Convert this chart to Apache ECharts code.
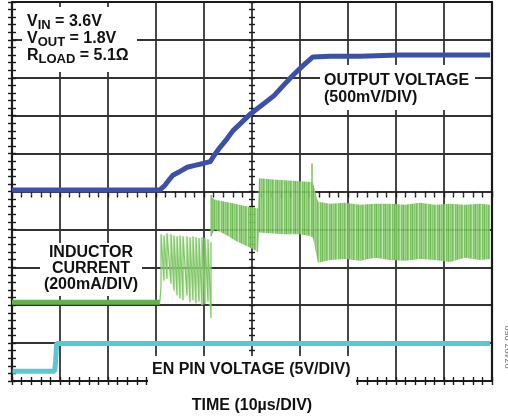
<!DOCTYPE html>
<html>
<head>
<meta charset="utf-8">
<script src="https://cdn.jsdelivr.net/npm/echarts@6/dist/echarts.min.js"></script>
<style>
html,body{margin:0;padding:0;background:#fff;}
#chart{width:508px;height:419px;}
</style>
</head>
<body>
<div id="chart"></div>
<script>
// x: time in µs (10 µs/div), y: screen divisions from the bottom of the graticule (0..10)
const voutX = [0,30.8,31.7,32.5,33.5,35.0,36.5,38.1,39.8,41.3,42.1,43.3,44.8,46.0,47.9,49.8,52.3,54.6,56.7,58.8,60.8,62.7,66.3,72.5,80.8,89.2,99.6];
const voutY = [5.04,5.04,5.14,5.27,5.43,5.53,5.64,5.69,5.74,5.79,5.95,6.16,6.39,6.60,6.83,7.06,7.30,7.53,7.82,8.10,8.34,8.55,8.57,8.57,8.60,8.60,8.60];

const enX = [0.1,8.9,9.1,9.3,99.6];
const enY = [0.26,0.26,0.55,0.99,0.99];

const ilFlatX = [0,30.8];
const ilFlatY = [2.08,2.08];

const spikeX   = [31.04,31.67,32.29,33.13,33.75,34.38,35.0,35.63,36.46,37.08,37.71,38.33,38.96,39.58,40.21,40.83,41.46];
const spikeTop = [3.87,3.84,3.90,3.87,3.84,3.82,3.84,3.82,3.82,3.79,3.82,3.79,3.77,3.79,3.77,3.74,3.66];
const spikeBot = [2.52,2.65,2.70,2.57,2.39,2.26,2.18,2.13,2.26,2.08,2.13,2.05,2.10,2.00,2.03,2.10,1.66];

const bandX   = [41.46,42.29,44.38,46.46,48.54,50.63,51.25,51.46,53.75,56.88,60.0,62.29,62.71,63.75,66.25,69.38,72.5,75.63,78.75,81.88,85.0,88.13,91.25,94.38,97.5,99.58];
const bandTop = [4.86,4.78,4.73,4.68,4.62,4.57,4.55,5.35,5.32,5.30,5.27,5.25,5.22,4.73,4.68,4.70,4.65,4.68,4.68,4.65,4.70,4.65,4.68,4.65,4.68,4.65];
const bandBot = [3.82,4.00,3.87,3.71,3.58,3.45,3.40,3.92,3.90,3.87,3.87,3.82,3.77,3.12,3.19,3.22,3.17,3.25,3.19,3.17,3.22,3.19,3.14,3.25,3.19,3.22];

const peakX   = [41.5,62.5];
const peakTop = [4.91,5.74];
const peakBot = [3.82,3.82];

const FONT = '"Liberation Sans", Arial, Helvetica, sans-serif';
const GRID_C = '#333333';
const BORDER_C = '#1a1a1a';
const BLUE = '#3b50a8';
const GREEN = '#62b247';
const CYAN = '#5cc6d2';

// stripe pattern for the switching-current band
const pat = document.createElement('canvas');
pat.width = 9; pat.height = 2;
(function(){
  const g = pat.getContext('2d');
  const cols = ['#7cc462','#92cf7b','#66b84b','#86c96c','#b9e1a8','#70bd55','#8ccc73','#5fb344','#9ad484'];
  cols.forEach((c,i)=>{ g.fillStyle=c; g.fillRect(i,0,1,2); });
})();

const zip = (xs, ys) => xs.map((x,i)=>[x, ys[i]]);

const sawData = [];
spikeX.forEach((x,i)=>{ sawData.push([x, spikeBot[i]]); sawData.push([x, spikeTop[i]]); });
sawData.unshift([ilFlatX[1], ilFlatY[1]]);

function axisX(extra){
  return Object.assign({type:'value', min:0, max:100, interval:10, axisLabel:{show:false},
    axisTick:{show:false}, splitLine:{show:false}, axisLine:{show:false}}, extra);
}
function axisY(extra){
  return Object.assign({type:'value', min:0, max:10, interval:1, axisLabel:{show:false},
    axisTick:{show:false}, splitLine:{show:false}, axisLine:{show:false}}, extra);
}
const tickStyle = {color:BORDER_C, width:1.4};

const chart = echarts.init(document.getElementById('chart'), null, {renderer:'canvas'});
chart.setOption({
  animation:false,
  backgroundColor:'#ffffff',
  grid:{left:12, top:2, width:480, height:385},
  xAxis:[
    axisX({position:'bottom', splitLine:{show:true, lineStyle:{color:GRID_C, width:1.8}},
      axisLine:{show:true, onZero:false, lineStyle:{color:BORDER_C, width:2.2}},
      name:'TIME (10µs/DIV)', nameLocation:'middle', nameGap:17,
      nameTextStyle:{fontFamily:FONT, fontWeight:'bold', fontSize:16, color:'#111', verticalAlign:'top'}}),
    axisX({position:'top', axisLine:{show:true, onZero:false, lineStyle:{color:BORDER_C, width:2.2}}}),
    axisX({position:'bottom', interval:2, axisTick:{show:true, inside:true, length:4, lineStyle:tickStyle}}),
    axisX({position:'top', interval:2, axisTick:{show:true, inside:true, length:4, lineStyle:tickStyle}}),
    axisX({position:'bottom', offset:-192.5, interval:2, axisTick:{show:true, inside:true, length:3, lineStyle:tickStyle}}),
    axisX({position:'bottom', offset:-192.5, interval:2, axisTick:{show:true, inside:false, length:3, lineStyle:tickStyle}})
  ],
  yAxis:[
    axisY({position:'left', splitLine:{show:true, lineStyle:{color:GRID_C, width:1.8}},
      axisLine:{show:true, onZero:false, lineStyle:{color:BORDER_C, width:2.2}}}),
    axisY({position:'right', axisLine:{show:true, onZero:false, lineStyle:{color:BORDER_C, width:2.2}}}),
    axisY({position:'left', interval:0.2, axisTick:{show:true, inside:true, length:4, lineStyle:tickStyle}}),
    axisY({position:'right', interval:0.2, axisTick:{show:true, inside:true, length:4, lineStyle:tickStyle}}),
    axisY({position:'left', offset:-240, interval:0.2, axisTick:{show:true, inside:true, length:3, lineStyle:tickStyle}}),
    axisY({position:'left', offset:-240, interval:0.2, axisTick:{show:true, inside:false, length:3, lineStyle:tickStyle}})
  ],
  graphic:[
    {type:'rect', z:1, shape:{x:22, y:7, width:115, height:65}, style:{fill:'#fff'}},
    {type:'rect', z:1, shape:{x:320, y:65, width:155, height:45}, style:{fill:'#fff'}},
    {type:'rect', z:1, shape:{x:40, y:243, width:102, height:53}, style:{fill:'#fff'}},
    {type:'rect', z:1, shape:{x:148, y:356, width:208, height:29}, style:{fill:'#fff'}},
    {type:'text', z:5, x:27, y:22, style:{text:'{b|V}{s|IN}{b| = 3.6V}', textVerticalAlign:'middle',
      rich:{b:{fontFamily:FONT, fontWeight:'bold', fontSize:16, fill:'#111', lineHeight:20},
            s:{fontFamily:FONT, fontWeight:'bold', fontSize:13, fill:'#111', lineHeight:14, padding:[7,0,0,0]}}}},
    {type:'text', z:5, x:27, y:39, style:{text:'{b|V}{s|OUT}{b| = 1.8V}', textVerticalAlign:'middle',
      rich:{b:{fontFamily:FONT, fontWeight:'bold', fontSize:16, fill:'#111', lineHeight:20},
            s:{fontFamily:FONT, fontWeight:'bold', fontSize:13, fill:'#111', lineHeight:14, padding:[7,0,0,0]}}}},
    {type:'text', z:5, x:27, y:56, style:{text:'{b|R}{s|LOAD}{b| = 5.1Ω}', textVerticalAlign:'middle',
      rich:{b:{fontFamily:FONT, fontWeight:'bold', fontSize:16, fill:'#111', lineHeight:20},
            s:{fontFamily:FONT, fontWeight:'bold', fontSize:13, fill:'#111', lineHeight:14, padding:[7,0,0,0]}}}},
    {type:'text', z:5, x:324, y:81, style:{text:'OUTPUT VOLTAGE', font:'bold 16px '+FONT, fill:'#111', textVerticalAlign:'middle'}},
    {type:'text', z:5, x:324, y:98, style:{text:'(500mV/DIV)', font:'bold 16px '+FONT, fill:'#111', textVerticalAlign:'middle'}},
    {type:'text', z:5, x:91, y:253, style:{text:'INDUCTOR', font:'bold 16px '+FONT, fill:'#111', textAlign:'center', textVerticalAlign:'middle'}},
    {type:'text', z:5, x:91, y:269, style:{text:'CURRENT', font:'bold 16px '+FONT, fill:'#111', textAlign:'center', textVerticalAlign:'middle'}},
    {type:'text', z:5, x:91, y:285, style:{text:'(200mA/DIV)', font:'bold 16px '+FONT, fill:'#111', textAlign:'center', textVerticalAlign:'middle'}},
    {type:'text', z:5, x:152, y:370, style:{text:'EN PIN VOLTAGE (5V/DIV)', font:'bold 16px '+FONT, fill:'#111', textVerticalAlign:'middle'}},
    {type:'text', z:5, x:509, y:347, rotation:Math.PI/2, style:{text:'07407-050', font:'9px '+FONT, fill:'#777', textAlign:'center', textVerticalAlign:'middle'}}
  ],
  series:[
    {type:'custom', name:'IL band', z:3, xAxisIndex:0, yAxisIndex:0,
      data: bandX.map((x,i)=>[x, bandTop[i], bandBot[i]]),
      encode:{x:0, y:[1,2]},
      renderItem:function(params, api){
        if (params.dataIndex !== 0) return null;
        const pts = [];
        for (let i=0;i<bandX.length;i++) pts.push(api.coord([bandX[i], bandTop[i]]));
        for (let i=bandX.length-1;i>=0;i--) pts.push(api.coord([bandX[i], bandBot[i]]));
        return {type:'polygon', shape:{points:pts}, style:{fill:{image:pat, repeat:'repeat'}, opacity:0.9}};
      }},
    {type:'custom', name:'IL peaks', z:4, xAxisIndex:0, yAxisIndex:0,
      data: peakX.map((x,i)=>[x, peakTop[i], peakBot[i]]),
      encode:{x:0, y:[1,2]},
      renderItem:function(params, api){
        const a = api.coord([api.value(0), api.value(1)]);
        const b = api.coord([api.value(0), api.value(2)]);
        return {type:'line', shape:{x1:a[0], y1:a[1], x2:b[0], y2:b[1]}, style:{stroke:'#7cc462', lineWidth:1.5}};
      }},
    {type:'custom', name:'IL startup fill', z:3, xAxisIndex:0, yAxisIndex:0,
      data: spikeX.map((x,i)=>[x, spikeTop[i], spikeBot[i]]),
      encode:{x:0, y:[1,2]},
      renderItem:function(params, api){
        if (params.dataIndex !== 0) return null;
        const pts = [];
        for (let i=0;i<spikeX.length;i++) pts.push(api.coord([spikeX[i], spikeTop[i]]));
        for (let i=spikeX.length-1;i>=0;i--) pts.push(api.coord([spikeX[i], spikeBot[i]]));
        return {type:'polygon', shape:{points:pts}, style:{fill:'#c9e8bd', opacity:0.45}};
      }},
    {type:'line', name:'IL startup', z:4, data:sawData, showSymbol:false, symbol:'none',
      lineStyle:{color:'#80c766', width:1.2}},
    {type:'line', name:'IL idle', z:4, data:zip(ilFlatX, ilFlatY), showSymbol:false, symbol:'none',
      lineStyle:{color:GREEN, width:5}},
    {type:'line', name:'VOUT', z:4, data:zip(voutX, voutY), showSymbol:false, symbol:'none',
      lineStyle:{color:BLUE, width:5, join:'round'}},
    {type:'line', name:'EN', z:4, data:zip(enX, enY), showSymbol:false, symbol:'none',
      lineStyle:{color:CYAN, width:5}}
  ]
});
</script>
</body>
</html>
